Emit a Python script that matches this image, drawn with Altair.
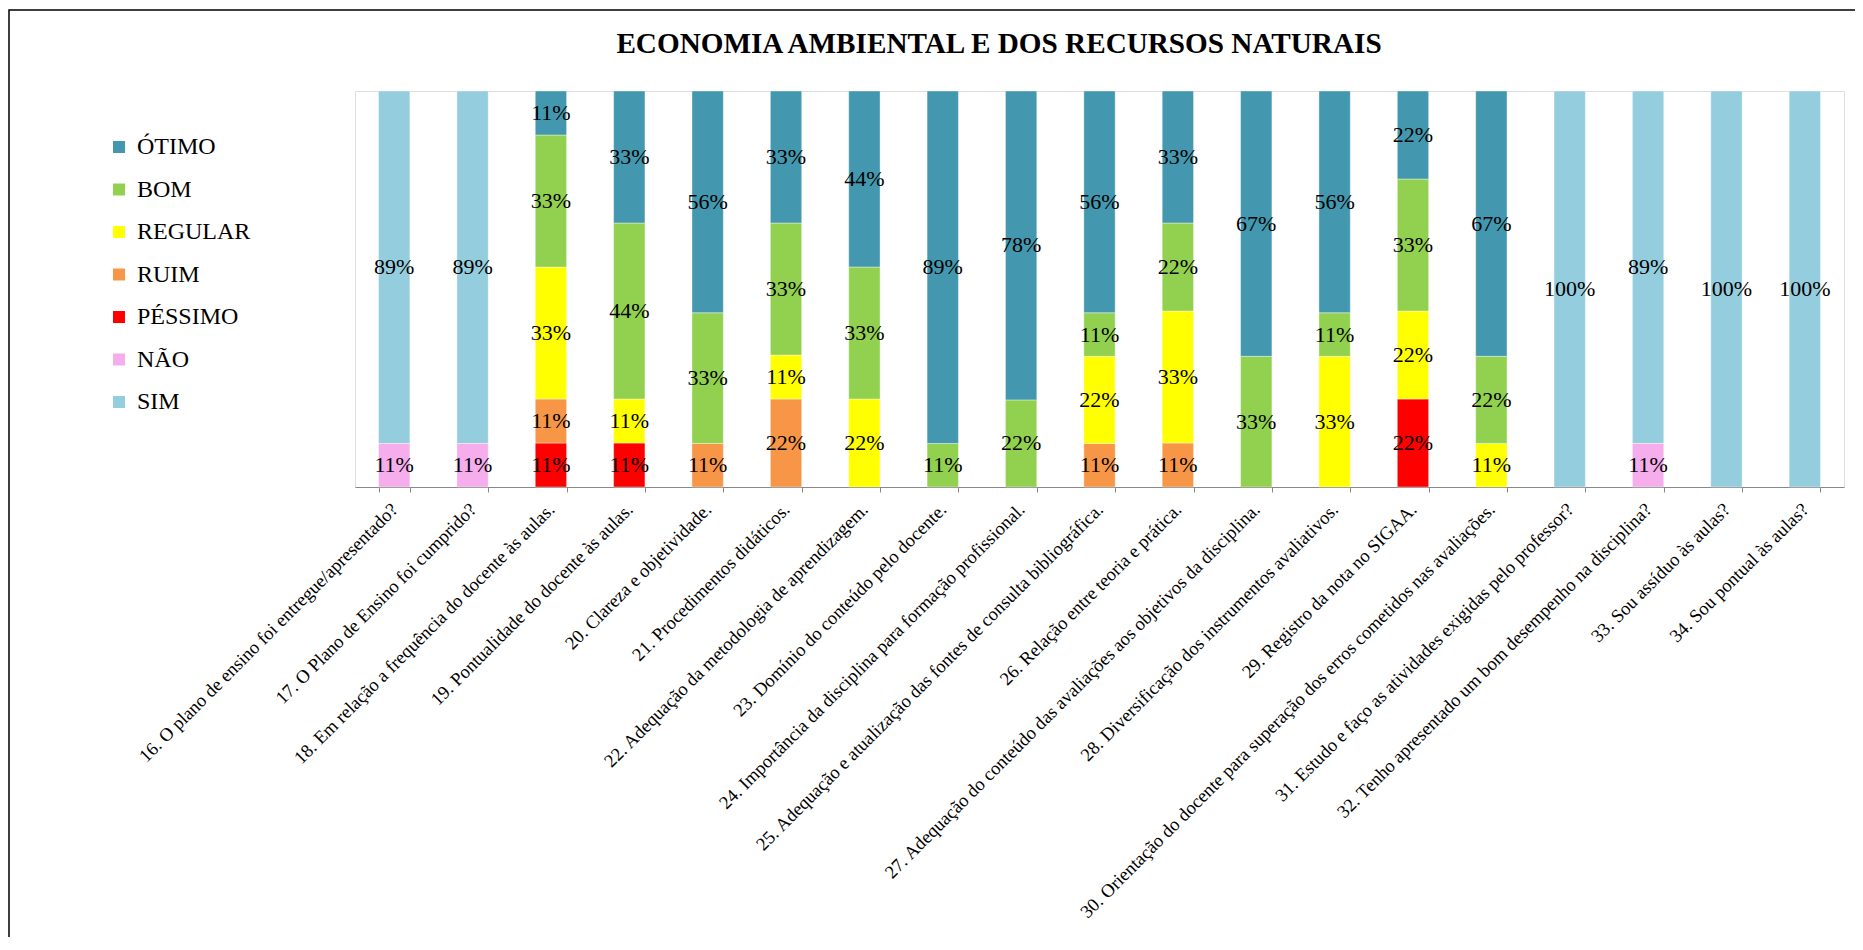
import altair as alt
import pandas as pd

TITLE = "ECONOMIA AMBIENTAL E DOS RECURSOS NATURAIS"

questions = [
    "16. O plano de ensino foi entregue/apresentado?",
    "17.  O Plano de Ensino foi cumprido?",
    "18.  Em relação a frequência do docente às aulas.",
    "19. Pontualidade do docente às aulas.",
    "20. Clareza e objetividade.",
    "21. Procedimentos didáticos.",
    "22. Adequação da metodologia de aprendizagem.",
    "23. Domínio do conteúdo pelo docente.",
    "24. Importância da disciplina para formação profissional.",
    "25. Adequação e atualização das fontes de consulta bibliográfica.",
    "26. Relação entre teoria e prática.",
    "27. Adequação do conteúdo das avaliações aos objetivos da disciplina.",
    "28. Diversificação dos instrumentos avaliativos.",
    "29. Registro da nota no SIGAA.",
    "30. Orientação do docente para superação dos erros cometidos nas avaliações.",
    "31. Estudo e faço as atividades exigidas pelo professor?",
    "32. Tenho apresentado um bom desempenho na disciplina?",
    "33. Sou assíduo às aulas?",
    "34. Sou pontual às aulas?",
]

#            16  17  18  19  20  21  22  23  24  25  26  27  28  29  30  31   32  33   34
sim     = [  89, 89,  0,  0,  0,  0,  0,  0,  0,  0,  0,  0,  0,  0,  0, 100, 89, 100, 100]
nao     = [  11, 11,  0,  0,  0,  0,  0,  0,  0,  0,  0,  0,  0,  0,  0,   0, 11,   0,   0]
pessimo = [   0,  0, 11, 11,  0,  0,  0,  0,  0,  0,  0,  0,  0, 22,  0,   0,  0,   0,   0]
ruim    = [   0,  0, 11,  0, 11, 22,  0,  0,  0, 11, 11,  0,  0,  0,  0,   0,  0,   0,   0]
regular = [   0,  0, 33, 11,  0, 11, 22,  0,  0, 22, 33,  0, 33, 22, 11,   0,  0,   0,   0]
bom     = [   0,  0, 33, 44, 33, 33, 33, 11, 22, 11, 22, 33, 11, 33, 22,   0,  0,   0,   0]
otimo   = [   0,  0, 11, 33, 56, 33, 44, 89, 78, 56, 33, 67, 56, 22, 67,   0,  0,   0,   0]

legend_order = ["ÓTIMO", "BOM", "REGULAR", "RUIM", "PÉSSIMO", "NÃO", "SIM"]
legend_colors = ["#4398AF", "#92D050", "#FFFF00", "#F79646", "#FF0000", "#F5ADEC", "#94CDDD"]
stack_order = ["NÃO", "SIM", "PÉSSIMO", "RUIM", "REGULAR", "BOM", "ÓTIMO"]

series = {"SIM": sim, "NÃO": nao, "PÉSSIMO": pessimo, "RUIM": ruim,
          "REGULAR": regular, "BOM": bom, "ÓTIMO": otimo}

rows = []
for name, vals in series.items():
    for q, v in zip(questions, vals):
        if v > 0:
            rows.append({"q": q, "serie": name, "value": v,
                         "ord": stack_order.index(name), "label": f"{v}%"})
df = pd.DataFrame(rows)

FONT = "Liberation Serif"

base = alt.Chart(df).transform_stack(
    stack="value", groupby=["q"], sort=[alt.SortField("ord")],
    as_=["y0", "y1"], offset="normalize"
).transform_calculate(mid="(datum.y0 + datum.y1) / 2")

xenc = alt.X("q:N", sort=questions, title=None,
             scale=alt.Scale(paddingInner=0.6, paddingOuter=0.3),
             axis=alt.Axis(labelAngle=-45, labelAlign="right", labelBaseline="middle",
                           labelFont=FONT, labelFontSize=18.5, labelColor="black",
                           labelLimit=1200, labelPadding=14, labelOverlap=False,
                           domainColor="#888888", tickColor="#888888", tickSize=5,
                           tickBand="extent", grid=False))

yscale = alt.Scale(domain=[0, 1])

bars = base.mark_bar(stroke="white", strokeWidth=0.4).encode(
    x=xenc,
    y=alt.Y("y0:Q", scale=yscale, axis=None),
    y2="y1:Q",
    color=alt.Color("serie:N", scale=alt.Scale(domain=legend_order, range=legend_colors),
                    legend=alt.Legend(orient="none", legendX=-248, legendY=44, title=None,
                                      labelFont=FONT, labelFontSize=24, labelColor="black",
                                      symbolType="square", symbolSize=144, symbolStrokeWidth=0,
                                      rowPadding=18.5, labelOffset=6, padding=0)),
)

texts = base.mark_text(font=FONT, fontSize=22, color="black", baseline="middle").encode(
    x=alt.X("q:N", sort=questions),
    y=alt.Y("mid:Q", scale=yscale),
    text="label:N",
)

border = alt.Chart(pd.DataFrame({"a": [0]})).mark_rect(
    filled=False, stroke="black", strokeWidth=1.5
).encode(x=alt.value(-346), x2=alt.value(1530), y=alt.value(-81), y2=alt.value(900))

title = alt.Chart(pd.DataFrame({"t": [TITLE]})).mark_text(
    font=FONT, fontSize=29.2, fontWeight="bold", color="black",
    align="center", baseline="alphabetic"
).encode(x=alt.value(644), y=alt.value(-38), text="t:N")

chart = alt.layer(border, bars, texts, title).properties(
    width=1489, height=396,
    autosize=alt.AutoSizeParams(type="none"),
    padding={"left": 347, "top": 83, "right": 11, "bottom": 450},
).configure_view(stroke=None).configure(background="white")

chart.save("out.html", embed_options={"renderer": "svg", "actions": False})
